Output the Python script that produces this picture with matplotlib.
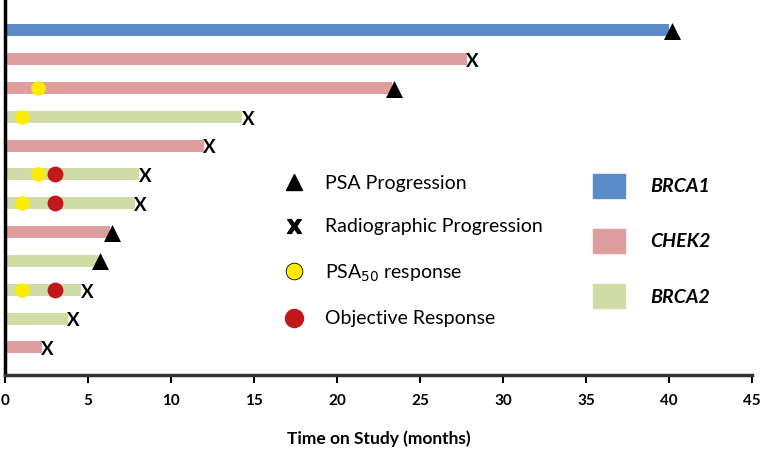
import matplotlib.pyplot as plt
from matplotlib.lines import Line2D

plt.rcParams['font.family'] = ['Lato', 'DejaVu Sans']

# one row per patient, top to bottom
genes = ['BRCA1', 'CHEK2', 'CHEK2', 'BRCA2', 'CHEK2', 'BRCA2', 'BRCA2',
         'CHEK2', 'BRCA2', 'BRCA2', 'BRCA2', 'CHEK2']
months = [40.0, 27.8, 23.3, 14.3, 12.0, 8.1, 7.8, 6.3, 5.6, 4.6, 3.8, 2.2]
progression = ['psa', 'rad', 'psa', 'rad', 'rad', 'rad', 'rad', 'psa', 'psa', 'rad', 'rad', 'rad']
psa50 = [None, None, 2.0, 1.0, None, 2.0, 1.0, None, None, 1.0, None, None]
objective = [None, None, None, None, None, 3.0, 3.0, None, None, 3.0, None, None]

gene_names = ['BRCA1', 'CHEK2', 'BRCA2']
gene_colors = {'BRCA1': '#5b8bc9', 'CHEK2': '#df9e9e', 'BRCA2': '#d0dca6'}
yellow = '#ffec00'
red = '#c0181b'

fig = plt.figure(figsize=(7.6, 4.61), dpi=100)
ax = fig.add_axes([0.0066, 0.187, 0.983, 0.813])

n = len(months)
ys = list(range(n, 0, -1))

ax.barh(ys, months, height=0.42, color=[gene_colors[g] for g in genes], zorder=1)

for y, m, p in zip(ys, months, progression):
    if p == 'psa':
        ax.scatter([m + 0.15], [y - 0.02], marker='^', s=150, color='black', zorder=3, linewidths=0)
    else:
        ax.text(m - 0.05, y - 0.08, 'X', fontsize=13.5, fontweight='bold', ha='left', va='center', zorder=3)

for y, v in zip(ys, psa50):
    if v is not None:
        ax.scatter([v], [y], s=110, color=yellow, zorder=2, linewidths=0)
for y, v in zip(ys, objective):
    if v is not None:
        ax.scatter([v], [y], s=130, color=red, zorder=2, linewidths=0)

ax.set_xlim(0, 45)
ax.set_ylim(0.05, 13.05)
ax.set_xticks(range(0, 50, 5))
ax.set_yticks([])
for lab in ax.get_xticklabels():
    lab.set_fontweight('bold')
ax.tick_params(axis='x', direction='out', length=6, width=1.5, labelsize=11, pad=8)
ax.spines['top'].set_visible(False)
ax.spines['right'].set_visible(False)
ax.spines['left'].set_linewidth(2.5)
ax.spines['bottom'].set_linewidth(2.5)
ax.spines['bottom'].set_color('#333333')
ax.set_xlabel('Time on Study (months)', fontsize=12.5, fontweight='bold', labelpad=16)

# symbol legend
sym_handles = [
    Line2D([], [], marker='^', color='black', linestyle='none', markersize=12),
    Line2D([], [], marker='$\\mathbf{X}$', color='black', linestyle='none', markersize=10),
    Line2D([], [], marker='o', markerfacecolor=yellow, markeredgecolor='black',
           markeredgewidth=0.6, linestyle='none', markersize=12),
    Line2D([], [], marker='o', color=red, linestyle='none', markersize=13),
]
sym_labels = ['PSA Progression', 'Radiographic Progression', 'PSA$_{50}$ response', 'Objective Response']
leg1 = ax.legend(sym_handles, sym_labels, loc='upper left', bbox_to_anchor=(0.35, 0.555),
                 frameon=False, fontsize=14, labelspacing=1.38, handletextpad=0.6,
                 borderaxespad=0)
ax.add_artist(leg1)

# gene legend
gene_handles = [plt.Rectangle((0, 0), 1, 1, color=gene_colors[g]) for g in gene_names]
leg2 = ax.legend(gene_handles, gene_names, loc='upper left', bbox_to_anchor=(0.777, 0.557),
                 frameon=False, fontsize=14, labelspacing=1.58, handlelength=1.65,
                 handleheight=1.55, handletextpad=1.3, borderaxespad=0)
for t in leg2.get_texts():
    t.set_fontweight('bold')
    t.set_fontstyle('italic')

fig.savefig('out.png', dpi=100)
